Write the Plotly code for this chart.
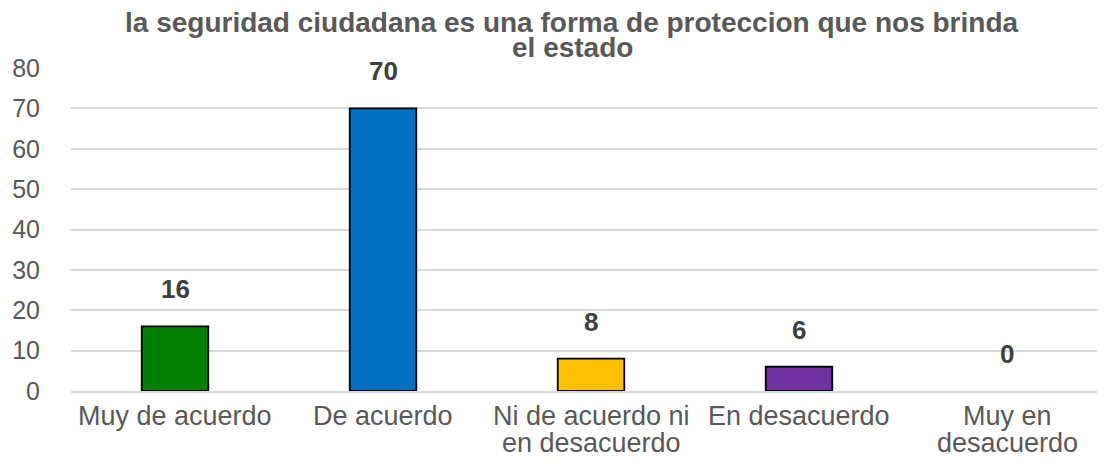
import plotly.graph_objects as go

categories = ["Muy de acuerdo", "De acuerdo", "Ni de acuerdo ni<br>en desacuerdo",
              "En desacuerdo", "Muy en<br>desacuerdo"]
values = [16, 70, 8, 6, 0]
bar_colors = ["#008000", "#0070C0", "#FFC000", "#7030A0", "#A5A5A5"]
y_ticks = [0, 10, 20, 30, 40, 50, 60, 70, 80]

title_lines = ["la seguridad ciudadana es una forma de proteccion que nos brinda",
               "el estado"]

FONT = "Liberation Sans, Arial"

fig = go.Figure(go.Bar(
    x=categories,
    y=values,
    marker=dict(color=bar_colors,
                line=dict(color="#000000", width=[1.8 if v > 0 else 0 for v in values])),
    width=0.32,
    hoverinfo="x+y",
))

# data labels above bars
for cat, val in zip(categories, values):
    fig.add_annotation(
        x=cat, y=val, text="<b>%d</b>" % val,
        showarrow=False, yanchor="middle", yshift=37, borderpad=0,
        font=dict(family=FONT, size=26, color="#404040"),
    )

# category labels, one annotation per line for tighter line spacing
for cat in categories:
    for i, line in enumerate(cat.split("<br>")):
        fig.add_annotation(
            x=cat, y=0, text=line,
            showarrow=False, yanchor="middle", yshift=-(25 + 27 * i), borderpad=0,
            font=dict(family=FONT, size=27, color="#595959"),
        )

# title, two lines
for i, line in enumerate(title_lines):
    fig.add_annotation(
        x=0.482, xref="paper", y=1, yref="paper", text="<b>%s</b>" % line,
        showarrow=False, yanchor="middle", yshift=46 - 25 * i, borderpad=0,
        font=dict(family=FONT, size=28, color="#595959"),
    )

fig.update_layout(
    width=1105,
    height=464,
    margin=dict(l=63, r=2, t=60, b=81),
    paper_bgcolor="white",
    plot_bgcolor="white",
    font=dict(family=FONT, size=25, color="#595959"),
    showlegend=False,
)
fig.update_yaxes(
    range=[0, 80],
    tickvals=y_ticks,
    showgrid=True,
    gridcolor="#D9D9D9",
    gridwidth=1.5,
    zeroline=False,
    showline=False,
    ticks="",
    ticklabelstandoff=30,
    tickfont=dict(size=25, color="#595959"),
)
fig.update_xaxes(
    showline=True,
    linecolor="#D9D9D9",
    linewidth=1.5,
    ticks="",
    showticklabels=False,
)

fig.write_html("out.html")
